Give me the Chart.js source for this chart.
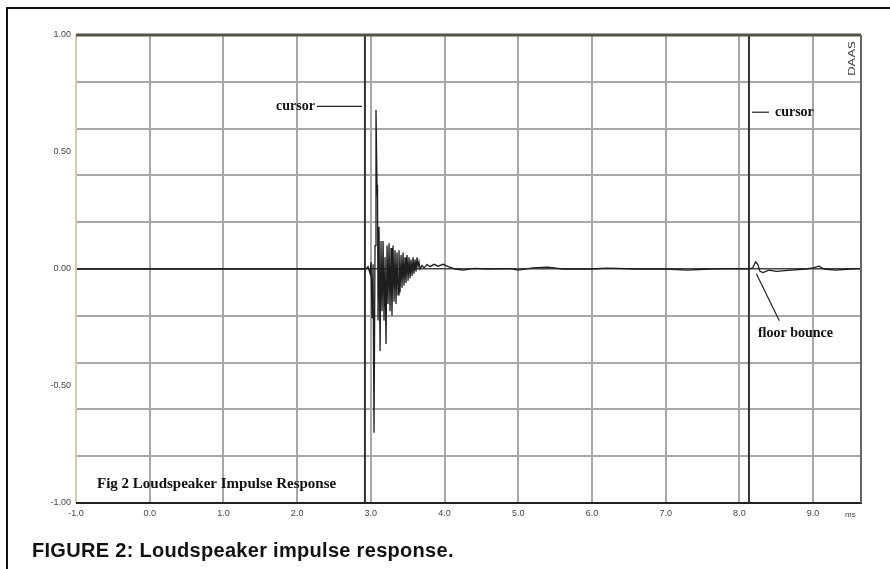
<!DOCTYPE html>
<html>
<head>
<meta charset="utf-8">
<script src="https://cdn.jsdelivr.net/npm/chart.js@4.4.1/dist/chart.umd.min.js"></script>
<style>
  html, body { margin: 0; padding: 0; background: #fff; }
  body { width: 890px; height: 569px; position: relative; overflow: hidden; }
  #frame { position: absolute; left: 6px; top: 7px; width: 900px; height: 600px;
           border-left: 2px solid #111; border-top: 2px solid #111; box-sizing: border-box; }
  #c { position: absolute; left: 0; top: 0; }
  #caption { position: absolute; left: 32px; top: 539px; font-family: "Liberation Sans", Arial, sans-serif;
             font-weight: bold; font-size: 20px; letter-spacing: 0.3px; line-height: normal;
             color: #111; white-space: nowrap; }
</style>
</head>
<body>
<div id="frame"></div>
<canvas id="c" width="890" height="569"></canvas>
<div id="caption">FIGURE 2: Loudspeaker impulse response.</div>
<script>
// ---- data (time in ms, amplitude) ----
const timeMs = [
  -1.0, 2.90, 2.935, 2.962, 2.989, 3.003, 3.016, 3.030, 3.043, 3.057, 3.070, 3.084, 3.091,
  3.098, 3.111, 3.125, 3.138, 3.152, 3.166, 3.179, 3.193, 3.206, 3.220, 3.233, 3.247, 3.260,
  3.274, 3.287, 3.301, 3.315, 3.328, 3.342, 3.355, 3.369, 3.382, 3.396, 3.410, 3.423, 3.437,
  3.450, 3.464, 3.477, 3.491, 3.505, 3.518, 3.532, 3.545, 3.559, 3.573, 3.586, 3.600, 3.613,
  3.627, 3.641, 3.654, 3.668, 3.695, 3.722, 3.763, 3.803, 3.858, 3.912, 3.980, 4.05, 4.15,
  4.25, 4.40, 4.60, 4.90, 5.00, 5.20, 5.40, 5.60, 6.00, 6.20, 6.60, 7.00, 7.30, 7.60, 8.00,
  8.13, 8.18, 8.22, 8.25, 8.28, 8.32, 8.40, 8.50, 8.70, 8.90, 9.00, 9.08, 9.15, 9.30, 9.50, 9.65
];
const amplitude = [
  0.0, 0.0, 0.0, 0.01, -0.02, 0.03, -0.21, 0.02, -0.70, 0.10, 0.68, 0.36, 0.30,
  -0.22, 0.18, -0.35, 0.12, -0.18, 0.12, -0.22, 0.05, -0.32, 0.10, -0.15, 0.11, -0.18,
  0.09, -0.20, 0.10, -0.14, 0.08, -0.15, 0.07, -0.11, 0.08, -0.10, 0.06, -0.08, 0.07,
  -0.07, 0.05, -0.06, 0.06, -0.05, 0.05, -0.04, 0.04, -0.03, 0.05, -0.02, 0.04, -0.01,
  0.05, 0.01, 0.03, 0.0, 0.015, 0.005, 0.02, 0.01, 0.02, 0.012, 0.02, 0.01, 0.0,
  -0.005, 0.003, 0.0, 0.002, -0.005, 0.005, 0.008, 0.0, 0.0, 0.004, 0.0, 0.0, -0.005, 0.0, 0.002,
  0.0, 0.005, 0.03, 0.02, -0.01, -0.015, -0.005, -0.01, -0.005, 0.0, 0.005, 0.012, 0.0, -0.005, 0.0, 0.002
];
const cursorTimes = [2.92, 8.13];
const floorBounceTime = 8.23;
const xTickValues = [-1, 0, 1, 2, 3, 4, 5, 6, 7, 8, 9];
const xTickLabels = ['-1.0', '0.0', '1.0', '2.0', '3.0', '4.0', '5.0', '6.0', '7.0', '8.0', '9.0'];
const yGridValues = [-1, -0.8, -0.6, -0.4, -0.2, 0, 0.2, 0.4, 0.6, 0.8, 1];
const yLabelValues = [-1, -0.5, 0, 0.5, 1];
const yLabelTexts = ['-1.00', '-0.50', '0.00', '0.50', '1.00'];
const xMin = -1.0, xMax = 9.65, yMin = -1, yMax = 1;

const key = v => Math.round(v * 100);
const yTickValues = Array.from(new Set([...yGridValues, ...yLabelValues].map(key))).sort((a, b) => a - b).map(k => k / 100);
const isGrid = v => yGridValues.some(g => key(g) === key(v));
const labelFor = v => { const i = yLabelValues.findIndex(l => key(l) === key(v)); return i >= 0 ? yLabelTexts[i] : ''; };

const responsePoints = timeMs.map((t, i) => ({ x: t, y: amplitude[i] }));
const cursorDatasets = cursorTimes.map(t => ({
  data: [{ x: t, y: yMin }, { x: t, y: yMax }],
  borderColor: '#333', borderWidth: 2, pointRadius: 0, tension: 0
}));

const overlay = {
  id: 'overlay',
  afterDraw(chart) {
    const { ctx, chartArea: a, scales: { x, y } } = chart;
    ctx.save();
    // plot frame
    ctx.lineCap = 'butt';
    ctx.strokeStyle = '#d2ccae'; ctx.lineWidth = 2;
    ctx.beginPath(); ctx.moveTo(a.left, a.top); ctx.lineTo(a.left, a.bottom); ctx.stroke();
    ctx.strokeStyle = '#55524a'; ctx.lineWidth = 3;
    ctx.beginPath(); ctx.moveTo(a.left, a.top); ctx.lineTo(a.right, a.top); ctx.stroke();
    ctx.strokeStyle = '#222'; ctx.lineWidth = 2;
    ctx.beginPath(); ctx.moveTo(a.left, a.bottom); ctx.lineTo(a.right + 1, a.bottom); ctx.stroke();
    ctx.strokeStyle = '#666'; ctx.lineWidth = 2;
    ctx.beginPath(); ctx.moveTo(a.right, a.top); ctx.lineTo(a.right, a.bottom); ctx.stroke();

    // annotations
    const c1 = x.getPixelForValue(cursorTimes[0]);
    const c2 = x.getPixelForValue(cursorTimes[1]);
    ctx.fillStyle = '#111';
    ctx.strokeStyle = '#222'; ctx.lineWidth = 1.2;
    ctx.font = 'bold 14px "Liberation Serif", "Times New Roman", serif';
    ctx.textBaseline = 'middle';
    // left cursor label
    const yc1 = y.getPixelForValue(0.695);
    ctx.textAlign = 'right';
    ctx.fillText('cursor', c1 - 50, yc1);
    ctx.beginPath(); ctx.moveTo(c1 - 48, yc1); ctx.lineTo(c1 - 3, yc1); ctx.stroke();
    // right cursor label
    const yc2 = y.getPixelForValue(0.67);
    ctx.textAlign = 'left';
    ctx.beginPath(); ctx.moveTo(c2 + 3, yc2); ctx.lineTo(c2 + 20, yc2); ctx.stroke();
    ctx.fillText('cursor', c2 + 26, yc2);
    // floor bounce
    const fx = x.getPixelForValue(floorBounceTime);
    const fy = y.getPixelForValue(-0.02);
    ctx.beginPath(); ctx.moveTo(fx, fy); ctx.lineTo(fx + 23, fy + 47); ctx.stroke();
    ctx.textAlign = 'left';
    ctx.fillText('floor bounce', c2 + 9, y.getPixelForValue(-0.275));
    // figure title inside plot
    ctx.font = 'bold 15px "Liberation Serif", "Times New Roman", serif';
    ctx.fillText('Fig 2 Loudspeaker Impulse Response', a.left + 21, a.bottom - 19);
    // unit label
    ctx.font = '8px "Liberation Sans", Arial, sans-serif';
    ctx.fillStyle = '#444';
    ctx.fillText('ms', a.right - 16, a.bottom + 12);
    // DAAS vertical logo
    ctx.save();
    ctx.translate(a.right - 8, a.top + 41);
    ctx.rotate(-Math.PI / 2);
    ctx.scale(1.4, 1);
    ctx.font = '9px "DejaVu Sans", sans-serif';
    ctx.fillStyle = '#444';
    ctx.textAlign = 'left';
    ctx.fillText('DAAS', 0, 0);
    ctx.restore();
    ctx.restore();
  }
};

new Chart(document.getElementById('c'), {
  type: 'line',
  data: {
    datasets: [
      { data: responsePoints, borderColor: '#1e1e1e', borderWidth: 1.3, pointRadius: 0, tension: 0 },
      ...cursorDatasets
    ]
  },
  options: {
    responsive: false,
    animation: false,
    layout: { padding: { top: 35, right: 29, left: 0, bottom: 0 } },
    plugins: { legend: { display: false }, tooltip: { enabled: false } },
    scales: {
      x: {
        type: 'linear', min: xMin, max: xMax,
        afterBuildTicks: s => { s.ticks = xTickValues.map(v => ({ value: v })); },
        afterFit: s => { s.height = 66; },
        ticks: {
          autoSkip: false, maxRotation: 0, padding: 5,
          color: '#444', font: { family: '"Liberation Sans", Arial, sans-serif', size: 9 },
          callback: (v, i) => xTickLabels[i]
        },
        grid: { color: '#a8a8a8', lineWidth: 2, drawTicks: false },
        border: { display: false }
      },
      y: {
        type: 'linear', min: yMin, max: yMax,
        afterBuildTicks: s => { s.ticks = yTickValues.map(v => ({ value: v })); },
        afterFit: s => { s.width = 76; },
        ticks: {
          autoSkip: false, padding: 5,
          color: '#444', font: { family: '"Liberation Sans", Arial, sans-serif', size: 9 },
          callback: v => labelFor(v)
        },
        grid: {
          color: c => {
            if (!c.tick) return 'rgba(0,0,0,0)';
            if (key(c.tick.value) === 0) return '#444';
            return isGrid(c.tick.value) ? '#a8a8a8' : 'rgba(0,0,0,0)';
          },
          lineWidth: c => (c.tick && key(c.tick.value) === 0 ? 1.5 : 2),
          drawTicks: false
        },
        border: { display: false }
      }
    }
  },
  plugins: [overlay]
});
</script>
</body>
</html>
